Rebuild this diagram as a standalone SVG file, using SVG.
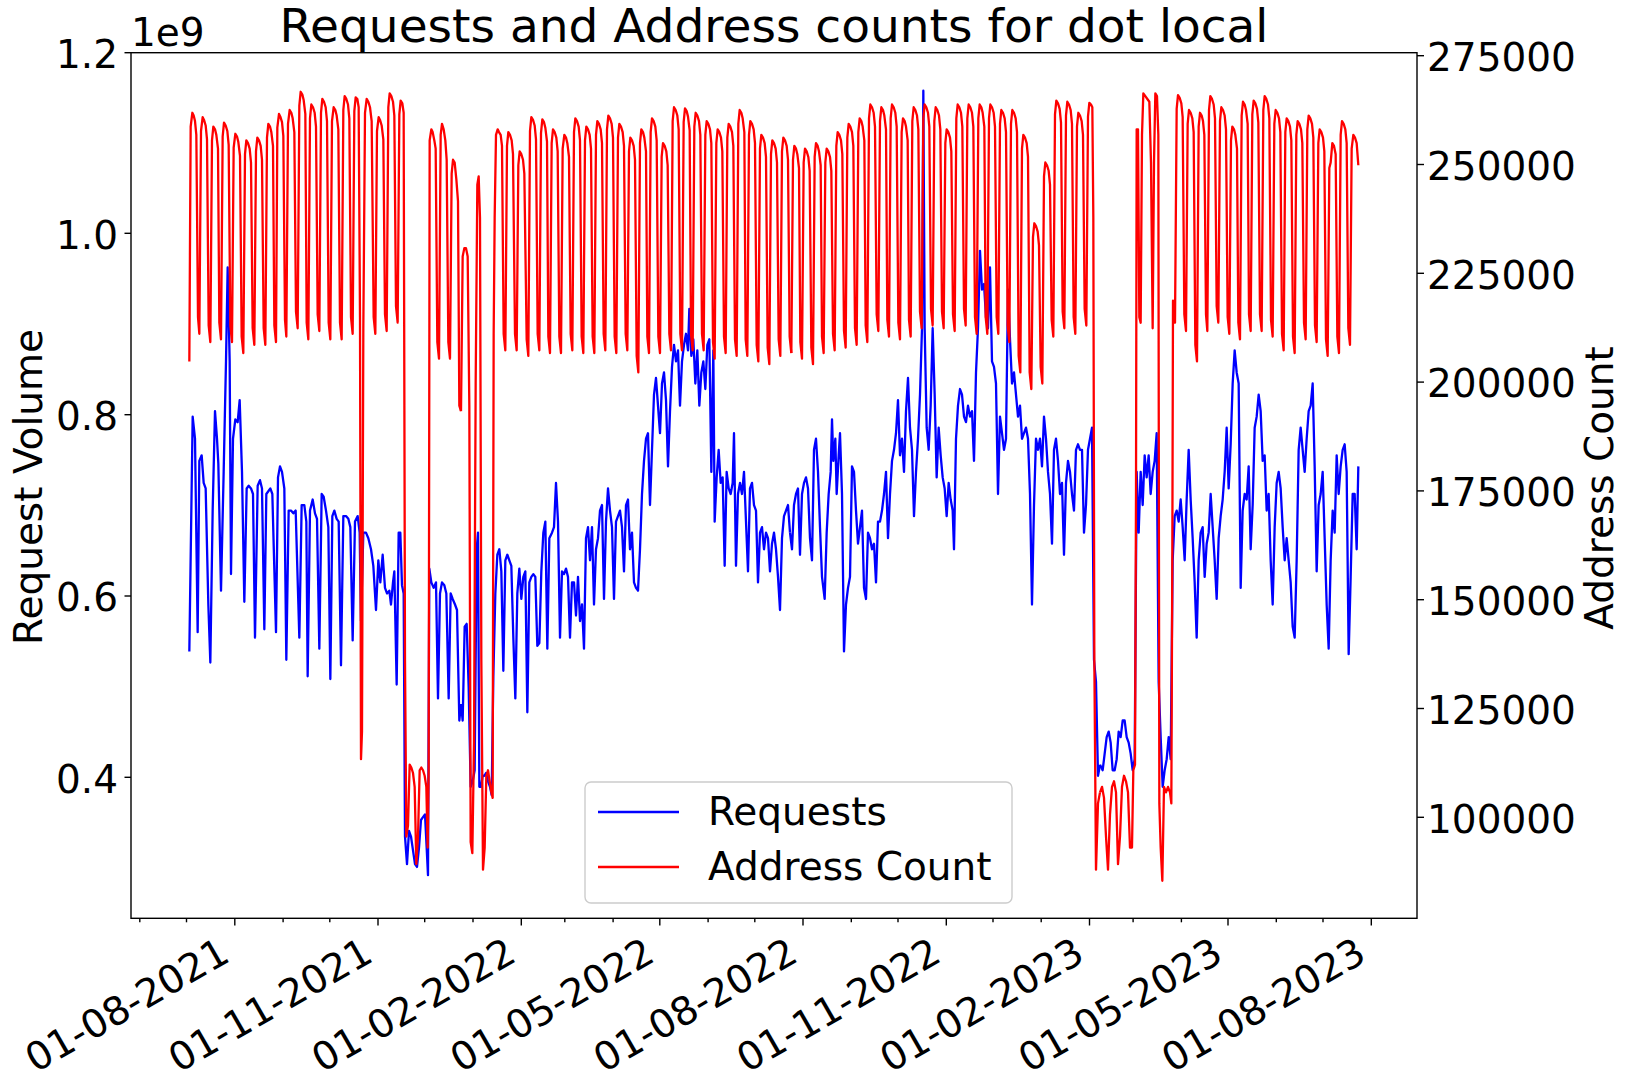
<svg xmlns="http://www.w3.org/2000/svg" width="1633" height="1081" viewBox="0 0 1633 1081">
<style>
text { font-family: "DejaVu Sans", "Liberation Sans", sans-serif; fill: #000; }
.lbl { font-size: 39px; }
.title { font-size: 47px; }
.frame { fill: none; stroke: #000; stroke-width: 1.4; }
.tk { stroke: #000; stroke-width: 1.4; }
.req { fill: none; stroke: #0000ff; stroke-width: 2.3; stroke-linejoin: round; vector-effect: non-scaling-stroke; }
.adr { fill: none; stroke: #ff0000; stroke-width: 2.3; stroke-linejoin: round; vector-effect: non-scaling-stroke; }
</style>
<rect x="0" y="0" width="1633" height="1081" fill="#fff"/>
<text class="title" x="774" y="42" text-anchor="middle">Requests and Address counts for dot local</text>

<g id="requests-series">
<polyline class="req" transform="translate(131,52) scale(0.33333,0.55249)" points="175,1085 185,660 192,700 200,1050 205,740 212,730 218,780 224,790 232,1000 238,1105 245,830 252,650 258,700 262,745 270,975 278,760 285,560 290,390 296,560 300,945 306,700 313,665 320,670 326,630 333,760 340,995 347,790 353,785 360,790 366,800 372,1060 380,785 387,775 393,790 400,1045 406,800 412,795 418,790 424,800 435,1050 441,770 447,750 453,760 460,790 466,1100 473,830 480,830 487,835 494,830 505,1060 512,820 520,820 526,850 530,1130 537,830 545,810 552,835 558,845 565,1080 572,800 578,805 585,830 592,860 598,1135 604,840 610,830 617,845 623,850 630,1110 637,840 645,840 652,845 658,860 665,1065 672,850 680,840 686,870 690,1030 697,870 705,870 712,880 720,900 727,930 735,1010 742,920 748,960 755,910 762,970 768,980 775,975 780,1000 786,960 790,940 797,1145 803,870 808,870 813,965 818,980 822,1420 828,1470 834,1410 840,1420 846,1445 852,1470 858,1475 864,1440 870,1390 876,1385 882,1380 887,1440 891,1490 895,935 901,960 908,970 915,960 921,1170 927,980 933,960 940,965 946,980 953,1170 959,980 965,990 972,1000 978,1010 985,1210 990,1180"/>
<polyline class="req" transform="translate(460,52) scale(0.33333,0.55249)" points="3,1180 8,1210 14,1040 20,1035 26,1150 32,1330 38,1320 44,1300 50,900 54,870 58,1330 63,1330 68,1310 73,1310 78,1305 84,1320 90,1330 95,1345 100,1130 106,980 112,910 118,900 124,940 130,1120 136,920 142,910 148,920 154,930 160,1060 166,1170 172,980 178,935 184,990 190,950 196,940 202,1195 208,960 214,950 220,945 226,950 232,1075 238,1070 244,940 250,870 256,850 262,1080 268,880 276,870 282,860 288,780 294,850 300,1060 306,940 312,945 318,935 324,950 330,1060 336,960 342,960 348,1020 354,950 360,1030 366,1000 372,1080 378,880 384,860 390,920 396,860 402,1000 408,900 414,880 420,830 426,820 432,990 438,850 444,790 450,830 456,860 462,990 468,850 474,840 480,830 486,860 492,940 498,820 504,810 510,900 516,870 522,960 528,970 534,975 540,900 546,800 552,740 558,700 564,690 570,820 576,720 582,620 588,590 594,640 600,690 606,600 612,580 618,630 624,750 630,650 636,570 642,530 648,560 654,540 660,640 666,560 672,530 678,510 684,540 688,465 694,550 700,520 706,600 712,540 718,640 724,580 730,560 736,610 742,530 748,520 754,760 760,540 764,850 770,770 776,720 782,780 788,770 794,930 800,760 806,790 812,800 818,780 822,690 828,930 834,800 840,780 846,800 852,760 858,850 864,940 870,790 876,780 882,820 888,830 894,960 900,870 906,860 912,900 918,870 924,880 930,940 936,890 942,870 948,900 954,950 960,1010 966,880 972,840 978,830 984,820 990,870"/>
<polyline class="req" transform="translate(790,52) scale(0.33333,0.55249)" points="0,870 6,900 12,820 18,800 24,790 30,910 36,800 42,780 48,770 54,790 60,880 66,920 72,720 78,700 84,760 90,860 96,950 104,990 110,870 116,800 122,760 126,665 130,740 136,700 140,800 146,730 150,690 156,800 162,1085 168,1000 174,970 180,950 186,750 192,760 198,830 204,890 210,860 216,830 222,970 228,990 234,870 240,880 246,900 252,890 258,960 264,850 270,850 276,830 282,800 288,760 294,880 300,800 306,740 312,720 318,690 324,630 330,730 336,700 342,760 348,650 354,590 360,680 366,720 372,840 378,760 384,700 390,620 396,500 400,70 404,500 410,680 416,720 422,640 428,500 434,620 440,770 446,680 452,730 458,770 464,790 470,840 476,780 482,810 488,830 492,900 498,700 504,640 510,610 516,620 522,660 528,670 534,640 540,660 546,650 552,740 558,580 564,500 570,360 576,430 582,420 588,480 594,500 600,390 606,560 612,570 618,600 624,800 630,660 636,690 642,720 648,700 654,430 660,520 666,600 672,580 678,620 684,660 690,640 696,700 702,690 708,680 714,700 720,800 726,1000 732,820 738,700 744,720 750,700 756,750 762,660 768,700 774,760 780,800 786,890 792,720 798,700 804,740 810,800 816,780 822,910 828,780 834,740 840,760 846,800 852,830 858,720 864,710 870,720 876,720 882,870 888,820 894,720 900,700 906,680 912,1100 918,1140 924,1310 930,1290"/>
<polyline class="req" transform="translate(1100,52) scale(0.33333,0.55249)" points="0,1290 8,1300 14,1270 20,1240 26,1230 32,1250 38,1300 44,1300 50,1280 56,1230 62,1240 68,1210 74,1210 80,1240 86,1250 92,1270 98,1300 104,1280 110,760 116,870 122,760 128,820 134,730 140,770 146,730 152,800 158,760 164,740 170,690 176,1140 182,1240 188,1330 194,1300 200,1280 206,1240 212,1280 218,920 224,840 230,830 236,850 242,810 248,860 254,920 260,810 266,720 272,810 278,880 284,960 290,1060 296,920 302,870 308,860 314,950 320,890 326,870 332,800 338,860 344,920 350,990 356,880 362,840 368,810 374,760 380,680 386,790 392,710 398,600 404,540 410,580 416,600 422,970 428,830 434,800 440,810 446,750 452,900 458,820 464,680 470,660 476,620 482,650 488,740 494,730 500,830 506,800 512,920 518,1000 524,860 530,780 536,760 542,790 548,860 554,920 560,880 566,920 572,960 578,1040 584,1060 590,920 596,720 602,680 608,720 614,760 620,700 626,650 632,640 638,600 644,750 650,940 656,820 662,800 668,760 674,880 680,1000 686,1080 692,920 698,830 704,870 710,730 716,800 722,750 728,720 734,710 740,760 746,1090 752,950 758,800 764,800 770,900 775,750"/>
</g>

<g id="address-series">
<polyline class="adr" transform="translate(131,52) scale(0.33333,0.55249)" points="175,560 179,135 184,110 188,115 192,125 196,150 201,480 205,510 210,143 215,118 219,123 224,133 228,158 233,495 238,525 243,160 247,135 252,140 256,150 261,175 265,490 270,520 275,153 279,128 284,133 289,143 293,168 298,495 303,525 308,173 313,148 318,153 322,163 327,188 332,515 337,545 342,185 346,160 351,165 356,175 360,200 365,500 370,530 375,180 379,155 384,160 389,170 393,195 398,500 403,530 408,155 412,130 417,135 421,145 426,170 430,495 435,525 439,137 444,112 448,117 453,127 457,152 462,485 466,515 471,130 476,105 481,110 485,120 490,145 495,470 500,500 505,97 509,72 514,77 518,87 523,112 527,490 532,520 537,120 541,95 546,100 551,110 555,135 560,475 565,505 570,110 574,85 579,90 584,100 588,125 593,490 598,520 603,125 608,100 613,105 617,115 622,140 627,490 632,520 637,105 641,80 646,85 651,95 655,120 660,480 665,510 670,107 674,82 679,85 683,100 687,480 690,1280 693,1230 697,500 702,110 707,85 712,90 717,100 722,125 728,480 733,510 738,143 743,118 747,123 752,133 757,158 762,475 767,505 772,100 776,75 781,80 786,90 790,115 795,460 800,490 805,113 809,88 814,93 818,110 822,1100 826,1420 831,1400 836,1290 841,1295 846,1305 851,1330 856,1470 861,1420 866,1300 871,1295 876,1300 881,1310 886,1330 890,1440 893,1300 896,160 901,140 905,145 910,160 914,175 919,525 924,555 929,150 933,130 938,140 943,160 947,195 952,525 957,555 962,220 966,195 971,200 976,230 981,270 985,640 990,650"/>
<polyline class="adr" transform="translate(460,52) scale(0.33333,0.55249)" points="3,650 8,370 13,355 18,355 23,370 28,640 32,1430 37,1450 42,1250 47,600 52,240 56,225 60,300 64,1100 69,1480 74,1440 79,1310 84,1300 89,1320 94,1340 98,1350 101,510 104,300 108,150 113,140 117,145 122,150 126,170 131,510 136,540 141,170 145,145 150,150 155,160 159,185 165,510 170,540 175,205 179,180 184,185 189,195 193,220 200,520 205,550 210,143 214,118 219,123 224,133 228,158 233,510 238,540 243,147 247,122 252,127 256,137 261,162 265,515 270,545 275,165 279,140 284,145 289,155 293,180 298,515 303,545 308,175 313,150 318,155 322,165 327,190 332,510 337,540 342,145 346,120 351,125 356,135 360,160 365,515 370,545 375,160 379,135 384,140 389,150 393,175 398,515 403,545 408,150 412,125 417,130 422,140 426,165 431,510 436,540 441,140 445,115 450,120 455,130 459,155 464,515 469,545 474,155 478,130 483,135 488,145 492,170 497,510 502,540 507,180 511,155 516,160 521,170 525,195 530,550 535,580 540,165 544,140 549,145 553,155 558,180 562,515 567,545 572,145 576,120 581,125 586,135 590,160 595,515 600,545 605,190 609,165 614,170 619,180 623,205 628,510 633,540 638,125 642,100 647,105 652,115 656,140 661,510 666,540 671,127 675,102 680,107 684,117 689,142 693,510 698,540 703,135 707,110 712,115 717,125 721,150 726,510 731,540 736,150 740,125 745,130 750,140 754,165 759,525 764,555 769,165 773,140 778,145 783,155 787,180 792,515 797,545 802,155 806,130 811,135 816,145 820,170 825,520 830,550 835,130 839,105 844,110 848,120 853,145 857,520 862,550 867,150 871,125 876,130 881,140 885,165 890,530 895,560 900,175 904,150 909,155 914,165 918,190 923,535 928,565 933,185 937,160 942,165 947,175 951,200 956,520 961,550 966,180 970,155 975,160 980,170 984,195 989,515 994,545"/>
<polyline class="adr" transform="translate(790,52) scale(0.33333,0.55249)" points="4,545 9,195 13,170 18,175 22,185 27,210 31,525 36,555 41,200 45,175 50,180 55,190 59,215 64,535 69,565 74,190 78,165 83,170 87,180 92,205 96,515 101,545 106,200 110,175 115,180 120,190 124,215 129,510 134,540 139,170 143,145 148,150 153,160 157,185 162,505 167,535 172,155 176,130 181,135 186,145 190,170 195,500 200,530 205,145 209,120 214,125 218,135 223,160 227,495 232,525 237,120 241,95 246,100 251,110 255,135 260,475 265,505 270,125 274,100 279,105 283,115 288,140 292,485 297,515 302,120 306,95 311,100 316,110 320,135 325,490 330,520 335,145 339,120 344,125 348,135 353,160 357,485 362,515 367,125 371,100 376,105 381,115 385,140 390,470 395,500 400,120 404,95 409,100 414,110 418,135 423,465 428,495 433,125 437,100 442,105 447,115 451,140 456,470 461,500 466,165 470,140 475,145 480,155 484,180 489,475 494,505 499,120 503,95 508,100 513,110 517,135 522,465 527,495 532,120 536,95 541,100 546,110 550,135 555,480 560,510 565,120 569,95 574,100 578,110 583,135 587,480 592,510 597,120 601,95 606,100 611,110 615,135 620,480 625,510 630,130 634,105 639,110 644,120 648,145 653,495 658,525 663,130 667,105 672,110 677,120 681,145 686,550 691,580 696,175 700,150 705,155 710,165 714,190 719,580 724,610 729,335 733,310 738,315 743,325 747,350 752,570 757,600 762,225 766,200 771,205 776,215 780,240 785,485 790,515 795,113 799,88 804,93 809,103 813,128 818,470 823,500 828,115 832,90 837,95 842,105 846,130 851,480 856,510 861,135 865,110 870,115 875,125 879,150 884,465 889,495 894,117 898,92 903,95 907,100 910,300 913,1100 918,1480 924,1360 930,1340"/>
<polyline class="adr" transform="translate(1100,52) scale(0.33333,0.55249)" points="0,1340 6,1330 12,1350 18,1420 24,1480 30,1380 36,1330 42,1320 48,1340 54,1470 60,1420 66,1330 72,1310 78,1320 84,1340 90,1440 96,1440 100,1300 105,1290 108,800 110,140 114,140 118,480 122,490 126,150 130,75 136,80 142,85 148,90 153,200 158,500 162,200 166,75 171,80 175,150 178,1360 182,1440 187,1500 192,1330 198,1340 204,1330 210,1340 214,1360 217,900 219,450 223,490 225,490 230,103 234,78 239,83 244,93 248,118 253,475 258,505 263,130 267,105 272,110 277,120 281,145 286,530 291,560 296,135 300,110 305,115 309,125 313,150 318,475 322,505 327,105 331,80 336,85 341,95 345,120 350,460 355,490 360,125 364,100 369,105 374,115 378,140 383,480 388,510 393,160 397,135 402,140 406,150 411,175 415,490 420,520 425,115 429,90 434,95 438,105 443,130 447,475 452,505 457,113 461,88 466,93 471,103 475,128 480,475 485,505 490,105 494,80 499,85 504,95 508,120 513,485 518,515 523,130 527,105 532,110 537,120 541,145 546,510 551,540 556,145 560,120 565,125 570,135 574,160 579,515 584,545 589,150 593,125 598,130 603,140 607,165 612,490 617,520 622,140 626,115 631,120 636,130 640,155 645,495 650,525 655,165 659,140 664,145 669,155 673,180 678,520 683,550 688,210 692,200 697,165 702,170 707,185 712,515 717,545 722,150 726,125 731,130 736,140 740,165 745,500 750,530 755,175 760,150 765,155 770,165 775,205"/>
</g>

<g id="axes-frame">
<rect class="frame" x="131" y="52.7" width="1286" height="865.6"/>
</g>

<g id="left-axis">
<line class="tk" x1="124.5" y1="52.7" x2="131" y2="52.7"/>
<line class="tk" x1="124.5" y1="233.3" x2="131" y2="233.3"/>
<line class="tk" x1="124.5" y1="414.7" x2="131" y2="414.7"/>
<line class="tk" x1="124.5" y1="596" x2="131" y2="596"/>
<line class="tk" x1="124.5" y1="777.3" x2="131" y2="777.3"/>
<text class="lbl" x="118" y="68" text-anchor="end">1.2</text>
<text class="lbl" x="118" y="249" text-anchor="end">1.0</text>
<text class="lbl" x="118" y="430" text-anchor="end">0.8</text>
<text class="lbl" x="118" y="611" text-anchor="end">0.6</text>
<text class="lbl" x="118" y="793" text-anchor="end">0.4</text>
<text class="lbl" x="131" y="46">1e9</text>
<text class="lbl" transform="translate(42,487) rotate(-90)" text-anchor="middle">Request Volume</text>
</g>

<g id="right-axis">
<line class="tk" x1="1417" y1="55.7" x2="1424" y2="55.7"/>
<line class="tk" x1="1417" y1="164.5" x2="1424" y2="164.5"/>
<line class="tk" x1="1417" y1="273.3" x2="1424" y2="273.3"/>
<line class="tk" x1="1417" y1="382.1" x2="1424" y2="382.1"/>
<line class="tk" x1="1417" y1="490.9" x2="1424" y2="490.9"/>
<line class="tk" x1="1417" y1="599.7" x2="1424" y2="599.7"/>
<line class="tk" x1="1417" y1="708.5" x2="1424" y2="708.5"/>
<line class="tk" x1="1417" y1="817.3" x2="1424" y2="817.3"/>
<text class="lbl" x="1427" y="71">275000</text>
<text class="lbl" x="1427" y="180">250000</text>
<text class="lbl" x="1427" y="289">225000</text>
<text class="lbl" x="1427" y="397">200000</text>
<text class="lbl" x="1427" y="506">175000</text>
<text class="lbl" x="1427" y="615">150000</text>
<text class="lbl" x="1427" y="724">125000</text>
<text class="lbl" x="1427" y="833">100000</text>
<text class="lbl" transform="translate(1613,488) rotate(-90)" text-anchor="middle">Address Count</text>
</g>

<g id="x-axis">
<g class="tk">
<line x1="139.8" y1="918.3" x2="139.8" y2="922.3"/>
<line x1="186.5" y1="918.3" x2="186.5" y2="922.3"/>
<line x1="234.8" y1="918.3" x2="234.8" y2="925.5"/>
<line x1="283.1" y1="918.3" x2="283.1" y2="922.3"/>
<line x1="329.8" y1="918.3" x2="329.8" y2="922.3"/>
<line x1="378" y1="918.3" x2="378" y2="925.5"/>
<line x1="424.7" y1="918.3" x2="424.7" y2="922.3"/>
<line x1="473" y1="918.3" x2="473" y2="922.3"/>
<line x1="521.3" y1="918.3" x2="521.3" y2="925.5"/>
<line x1="564.8" y1="918.3" x2="564.8" y2="922.3"/>
<line x1="613.1" y1="918.3" x2="613.1" y2="922.3"/>
<line x1="659.8" y1="918.3" x2="659.8" y2="925.5"/>
<line x1="708.1" y1="918.3" x2="708.1" y2="922.3"/>
<line x1="754.8" y1="918.3" x2="754.8" y2="922.3"/>
<line x1="803" y1="918.3" x2="803" y2="925.5"/>
<line x1="851.3" y1="918.3" x2="851.3" y2="922.3"/>
<line x1="898" y1="918.3" x2="898" y2="922.3"/>
<line x1="946.3" y1="918.3" x2="946.3" y2="925.5"/>
<line x1="993" y1="918.3" x2="993" y2="922.3"/>
<line x1="1041.2" y1="918.3" x2="1041.2" y2="922.3"/>
<line x1="1089.5" y1="918.3" x2="1089.5" y2="925.5"/>
<line x1="1133.1" y1="918.3" x2="1133.1" y2="922.3"/>
<line x1="1181.4" y1="918.3" x2="1181.4" y2="922.3"/>
<line x1="1228" y1="918.3" x2="1228" y2="925.5"/>
<line x1="1276.3" y1="918.3" x2="1276.3" y2="922.3"/>
<line x1="1323" y1="918.3" x2="1323" y2="922.3"/>
<line x1="1371.3" y1="918.3" x2="1371.3" y2="925.5"/>
</g>
<text class="lbl" text-anchor="end" transform="translate(231.8,960) rotate(-30)">01-08-2021</text>
<text class="lbl" text-anchor="end" transform="translate(375,960) rotate(-30)">01-11-2021</text>
<text class="lbl" text-anchor="end" transform="translate(518.3,960) rotate(-30)">01-02-2022</text>
<text class="lbl" text-anchor="end" transform="translate(656.8,960) rotate(-30)">01-05-2022</text>
<text class="lbl" text-anchor="end" transform="translate(800,960) rotate(-30)">01-08-2022</text>
<text class="lbl" text-anchor="end" transform="translate(943.3,960) rotate(-30)">01-11-2022</text>
<text class="lbl" text-anchor="end" transform="translate(1086.5,960) rotate(-30)">01-02-2023</text>
<text class="lbl" text-anchor="end" transform="translate(1225,960) rotate(-30)">01-05-2023</text>
<text class="lbl" text-anchor="end" transform="translate(1368.3,960) rotate(-30)">01-08-2023</text>
</g>

<g id="legend">
<rect x="585" y="782" width="427" height="121" rx="6" fill="#fff" fill-opacity="0.8" stroke="#cccccc" stroke-width="1.4"/>
<line x1="598" y1="812" x2="679" y2="812" stroke="#0000ff" stroke-width="2.3"/>
<line x1="598" y1="867" x2="679" y2="867" stroke="#ff0000" stroke-width="2.3"/>
<text class="lbl" x="708" y="825">Requests</text>
<text class="lbl" x="708" y="880">Address Count</text>
</g>
</svg>
